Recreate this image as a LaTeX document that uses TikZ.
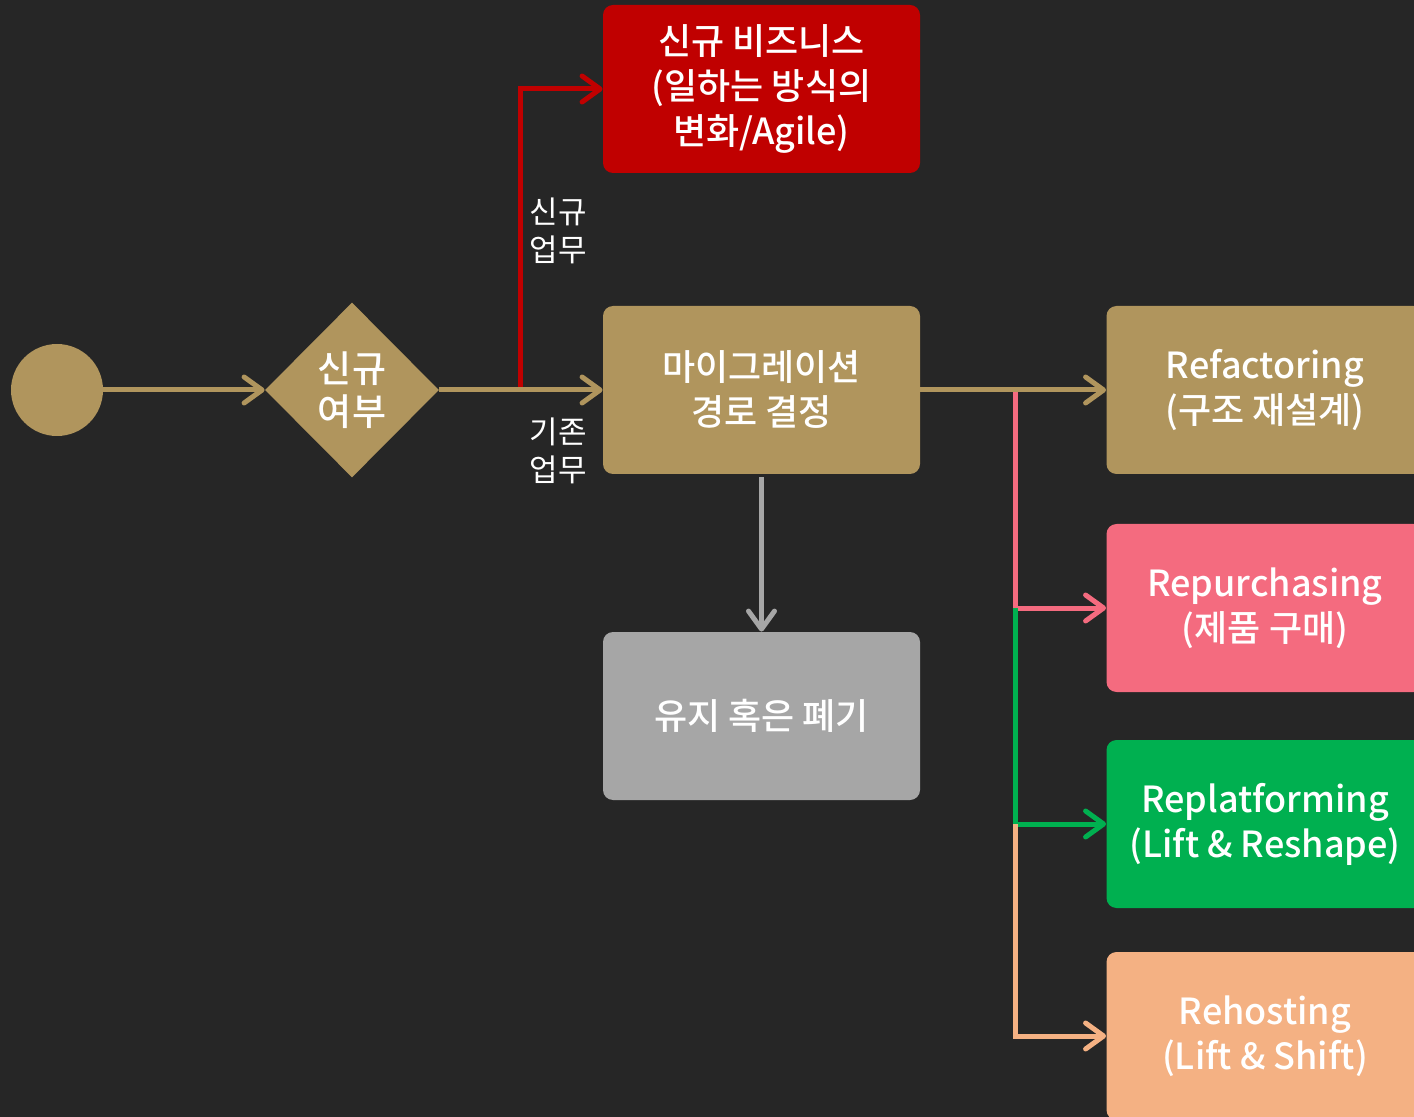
\documentclass[tikz,border=0pt]{standalone}
\usepackage{fontspec}
\setmainfont{Noto Sans CJK KR}
\newfontfamily\boxfont{Noto Sans CJK KR}[UprightFont=* Medium]
\usetikzlibrary{arrows.meta,shapes.geometric}
\definecolor{bgc}{HTML}{262626}
\definecolor{gold}{HTML}{B0955D}
\definecolor{redc}{HTML}{C00000}
\definecolor{pinkc}{HTML}{F46B7F}
\definecolor{greenc}{HTML}{00B050}
\definecolor{peachc}{HTML}{F4B183}
\definecolor{grayc}{HTML}{A6A6A6}
\tikzset{
  box/.style={rounded corners=5pt, minimum width=158.5pt, minimum height=84pt,
    inner sep=0pt, align=center, text=white, font=\boxfont\fontsize{18}{22.5}\selectfont},
  lbl/.style={align=center, text=white, font=\fontsize{15.5}{19}\selectfont, inner sep=0pt},
  conn/.style={line width=2.5pt, -{Straight Barb[length=9pt,width=13pt,round]}},
}
\begin{document}
\begin{tikzpicture}[x=0.5pt,y=-0.5pt]
  \useasboundingbox (0,0) rectangle (1414,1117);
  \fill[bgc] (0,0) rectangle (1414,1117);
  \clip (0,0) rectangle (1414,1117);

  % start and decision
  \node[circle, fill=gold, minimum size=46pt, inner sep=0pt] (start) at (57,390) {};
  \node[diamond, fill=gold, minimum width=87pt, minimum height=87.5pt, inner sep=0pt,
        align=center, text=white, font=\boxfont\fontsize{18.5}{21.5}\selectfont] (dec) at (352,390) {신규\\여부};

  % middle column
  \node[box, fill=redc] (new) at (761.5,89) {신규 비즈니스\\(일하는 방식의\\변화/Agile)};
  \node[box, fill=gold] (mig) at (761.5,390) {마이그레이션\\경로 결정};
  \node[box, fill=grayc] (keep) at (761.5,716) {유지 혹은 폐기};

  % right column
  \node[box, fill=gold] (refac) at (1265,390) {Refactoring\\(구조 재설계)};
  \node[box, fill=pinkc] (repur) at (1265,608) {Repurchasing\\(제품 구매)};
  \node[box, fill=greenc] (replat) at (1265,824) {Replatforming\\(Lift \& Reshape)};
  \node[box, fill=peachc] (rehost) at (1265,1036) {Rehosting\\(Lift \& Shift)};

  % branch labels
  \node[lbl] (lnew) at (558,231) {신규\\업무};
  \node[lbl] (lold) at (558,451) {기존\\업무};

  % connectors
  \draw[conn, gold] (start) -- (dec.west);
  \coordinate (rj) at (520,390);
  \draw[conn, redc] (rj) |- (new.west);
  \draw[conn, gold] (dec.east) -- (mig.west);
  \draw[conn, grayc] ([yshift=-1.5pt]mig.south) -- (keep.north);

  \coordinate (bj) at (1015,390);
  \draw[conn, pinkc] (bj) |- (repur.west);
  \draw[conn, greenc] (bj |- repur.west) |- (replat.west);
  \draw[conn, peachc] (bj |- replat.west) |- (rehost.west);
  \draw[conn, gold] (mig.east) -- (refac.west);
\end{tikzpicture}
\end{document}
